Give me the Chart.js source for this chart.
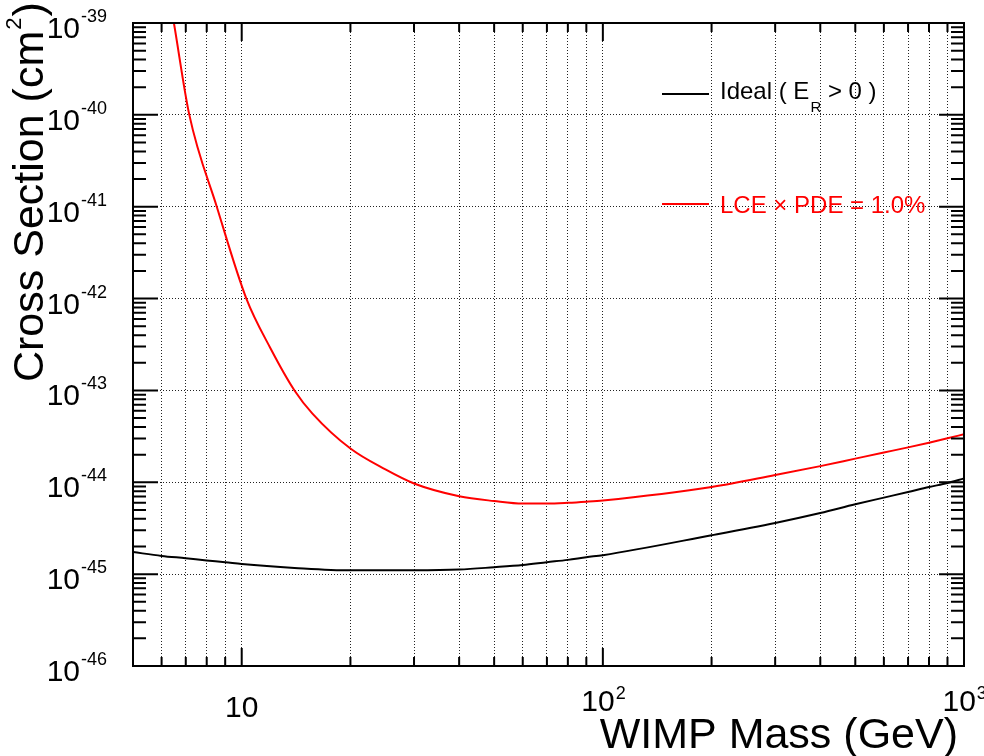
<!DOCTYPE html>
<html>
<head>
<meta charset="utf-8">
<title>WIMP sensitivity</title>
<script src="https://cdn.jsdelivr.net/npm/chart.js@4.4.1/dist/chart.umd.min.js"></script>
<style>
    html, body { margin: 0; padding: 0; background: #fff; }
    #wrap { width: 984px; height: 756px; }
</style>
</head>
<body>
<div id="wrap"><canvas id="limit-plot" width="984" height="756"></canvas></div>
<script>
// values (GeV, cm^2)
var massIdeal = [5, 6, 7, 8, 9, 10, 14, 20, 30, 40, 50, 60, 70, 80, 90, 100, 200, 300, 400, 500, 600, 700, 800, 900, 1000];
var sigmaIdeal = [1.74e-45, 1.58e-45, 1.49e-45, 1.41e-45, 1.35e-45, 1.29e-45, 1.17e-45, 1.10e-45, 1.10e-45, 1.12e-45,
    1.19e-45, 1.26e-45, 1.35e-45, 1.43e-45, 1.53e-45, 1.61e-45, 2.65e-45, 3.61e-45, 4.63e-45, 5.76e-45,
    6.81e-45, 7.84e-45, 8.88e-45, 9.82e-45, 1.10e-44];

var massLce = [6, 6.49, 7.16, 8.53, 10.3, 12, 14, 15.7, 20, 25, 30, 40, 50, 60, 70, 80, 90, 100, 200, 300, 400, 500, 600, 700, 800, 900, 1000];
var sigmaLce = [6e-39, 1e-39, 1e-40, 1e-41, 1e-42, 2.9e-43, 1e-43, 5.6e-44, 2.33e-44, 1.38e-44, 9.7e-45, 7.05e-45,
    6.25e-45, 5.86e-45, 5.86e-45, 5.97e-45, 6.14e-45, 6.34e-45, 8.89e-45, 1.20e-44, 1.50e-44, 1.81e-44,
    2.11e-44, 2.40e-44, 2.70e-44, 3.01e-44, 3.33e-44];

var seriesLabels = ['Ideal ( E', 'LCE \u00d7 PDE = 1.0%'];

// axis ticks and labels
var xGridTicks = [6, 7, 8, 9, 10, 20, 30, 40, 50, 60, 70, 80, 90, 100, 200, 300, 400, 500, 600, 700, 800, 900];
var yExponents = [-46, -45, -44, -43, -42, -41, -40, -39];
var xLabelValues = [10, 100, 1000];
var xLabelExps = ['', '2', '3'];

var FONT = '"Liberation Sans", Arial, Helvetica, sans-serif';

function font(px) {
    return px + 'px ' + FONT;
}

function pairs(xs, ys) {
    return xs.map(function (x, i) { return { x: x, y: ys[i] }; });
}

var frameAndTicks = {
    id: 'frameAndTicks',
    afterDatasetsDraw: function (chart) {
        var ctx = chart.ctx, a = chart.chartArea;
        var xs = chart.scales.x, ys = chart.scales.y;
        ctx.save();
        ctx.strokeStyle = '#000';
        ctx.lineWidth = 2;
        ctx.beginPath();
        [1, 10, 100].forEach(function (d) {
            for (var k = 2; k <= 10; k++) {
                var v = k * d;
                if (v <= 5 || v >= 1000) continue;
                var len = k === 10 ? 18 : 9;
                var px = xs.getPixelForValue(v);
                ctx.moveTo(px, a.bottom); ctx.lineTo(px, a.bottom - len);
                ctx.moveTo(px, a.top); ctx.lineTo(px, a.top + len);
            }
        });
        for (var e = -46; e < -39; e++) {
            for (var k = 2; k <= 10; k++) {
                var v = k * Math.pow(10, e);
                var len = k === 10 ? 25 : 13;
                if (k === 10 && e === -40) continue;
                var py = ys.getPixelForValue(v);
                ctx.moveTo(a.left, py); ctx.lineTo(a.left + len, py);
                ctx.moveTo(a.right, py); ctx.lineTo(a.right - len, py);
            }
        }
        ctx.stroke();
        ctx.strokeRect(a.left, a.top, a.right - a.left, a.bottom - a.top);
        ctx.restore();
    }
};

var textLayer = {
    id: 'textLayer',
    afterDraw: function (chart) {
        var ctx = chart.ctx;
        var xs = chart.scales.x, ys = chart.scales.y;
        ctx.save();
        ctx.fillStyle = '#000';
        ctx.textBaseline = 'alphabetic';

        // y tick labels 10^n
        yExponents.forEach(function (e) {
            var py = ys.getPixelForValue(Math.pow(10, e));
            ctx.font = font(30);
            ctx.textAlign = 'right';
            ctx.fillText('10', 80, py + 15);
            ctx.font = font(18);
            ctx.textAlign = 'left';
            ctx.fillText(String(e), 81, py - 1);
        });

        // x tick labels
        xLabelValues.forEach(function (v, i) {
            var px = xs.getPixelForValue(v);
            ctx.font = font(30);
            if (xLabelExps[i] === '') {
                ctx.textAlign = 'center';
                ctx.fillText('10', px, 717);
            } else {
                ctx.textAlign = 'left';
                ctx.fillText('10', px - 21.5, 711);
                var w = ctx.measureText('10').width;
                ctx.font = font(18);
                ctx.fillText(xLabelExps[i], px - 21.5 + w + 1, 699);
            }
        });

        // axis titles
        ctx.font = font(43);
        ctx.textAlign = 'right';
        ctx.fillText('WIMP Mass (GeV)', 958, 748);

        ctx.save();
        ctx.translate(43, 382);
        ctx.rotate(-Math.PI / 2);
        ctx.textAlign = 'left';
        var t = 'Cross Section (cm';
        ctx.fillText(t, 0, 0);
        var x0 = ctx.measureText(t).width;
        ctx.font = font(22);
        ctx.fillText('2', x0 + 1, -22);
        var x1 = x0 + 2 + ctx.measureText('2').width;
        ctx.font = font(43);
        ctx.fillText(')', x1, 0);
        ctx.restore();

        // legend
        ctx.lineWidth = 2;
        ctx.strokeStyle = '#000';
        ctx.beginPath(); ctx.moveTo(662, 94); ctx.lineTo(709, 94); ctx.stroke();
        ctx.font = font(24);
        ctx.textAlign = 'left';
        ctx.fillText(seriesLabels[0], 720, 99);
        var lx = 720 + ctx.measureText(seriesLabels[0]).width;
        ctx.font = font(15);
        ctx.fillText('R', lx + 1, 112);
        lx += 1 + ctx.measureText('R').width;
        ctx.font = font(24);
        ctx.fillText(' > 0 )', lx, 99);

        ctx.strokeStyle = '#ff0000';
        ctx.fillStyle = '#ff0000';
        ctx.beginPath(); ctx.moveTo(662, 204); ctx.lineTo(709, 204); ctx.stroke();
        ctx.fillText(seriesLabels[1], 720, 213);
        ctx.restore();
    }
};

var limitCanvas = document.getElementById('limit-plot');

new Chart(limitCanvas, {
    type: 'line',
    data: {
        datasets: [
            {
                label: 'Ideal',
                data: pairs(massIdeal, sigmaIdeal),
                borderColor: '#000000',
                borderWidth: 2,
                pointRadius: 0,
                cubicInterpolationMode: 'monotone'
            },
            {
                label: 'LCE x PDE = 1.0%',
                data: pairs(massLce, sigmaLce),
                borderColor: '#ff0000',
                borderWidth: 2,
                pointRadius: 0,
                cubicInterpolationMode: 'monotone'
            }
        ]
    },
    options: {
        responsive: false,
        animation: false,
        devicePixelRatio: 1,
        layout: { padding: { top: 23, right: 20, left: 0, bottom: 0 } },
        plugins: {
            legend: { display: false },
            tooltip: { enabled: false }
        },
        scales: {
            x: {
                type: 'logarithmic',
                min: 5,
                max: 1000,
                ticks: { display: false },
                grid: { color: '#222', lineWidth: 1, drawTicks: false },
                border: { display: false, dash: [1, 2] },
                afterBuildTicks: function (s) {
                    s.ticks = xGridTicks.map(function (v) { return { value: v }; });
                },
                afterFit: function (s) { s.height = 90; }
            },
            y: {
                type: 'logarithmic',
                min: 1e-46,
                max: 1e-39,
                ticks: { display: false },
                grid: { color: '#222', lineWidth: 1, drawTicks: false },
                border: { display: false, dash: [1, 2] },
                afterBuildTicks: function (s) {
                    s.ticks = yExponents.slice(1, -1).map(function (e) { return { value: Math.pow(10, e) }; });
                },
                afterFit: function (s) { s.width = 133; }
            }
        }
    },
    plugins: [frameAndTicks, textLayer]
});
</script>
</body>
</html>
